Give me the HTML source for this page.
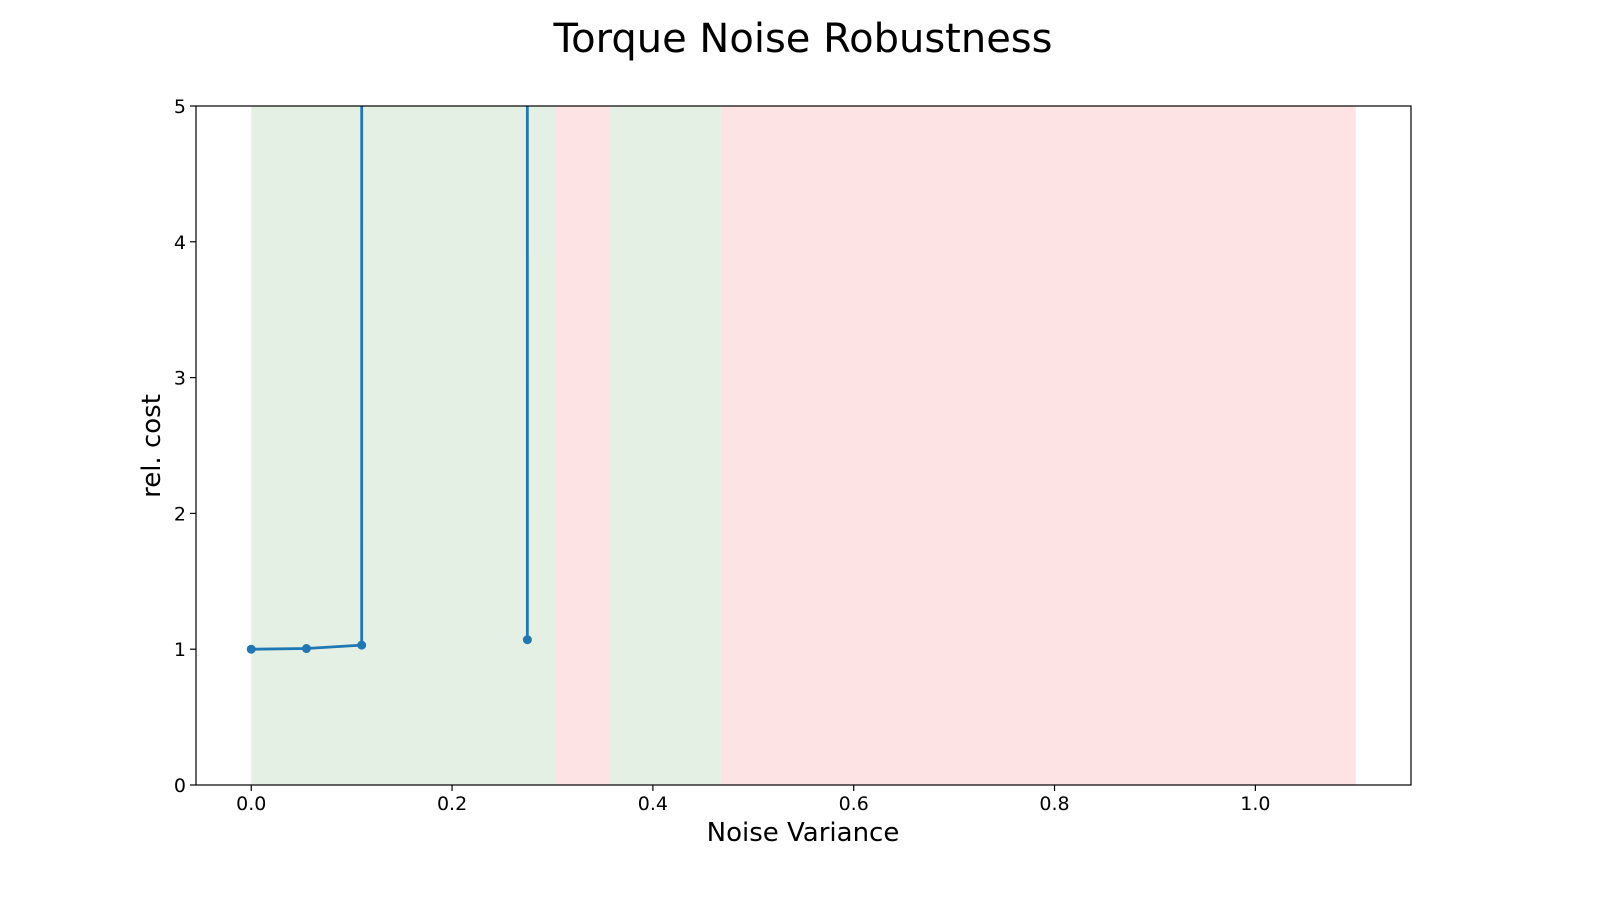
<!DOCTYPE html>
<html><head><meta charset="utf-8"><style>
html,body{margin:0;padding:0;background:#fff;}
svg text{font-family:"DejaVu Sans","Liberation Sans",sans-serif;fill:#000;}
</style></head><body>
<svg id="chart" width="1600" height="900" viewBox="0 0 1600 900" xmlns="http://www.w3.org/2000/svg">
<text x="803" y="52" font-size="40" text-anchor="middle">Torque Noise Robustness</text>
<defs><clipPath id="clip"><rect x="196" y="106" width="1215" height="679"/></clipPath></defs>
<g id="spans"></g>
<g id="series" clip-path="url(#clip)"></g>
<rect x="196" y="106" width="1215" height="679" fill="none" stroke="#000" stroke-width="1.2"/>
<g id="xticks"></g>
<g id="yticks"></g>
<text x="803" y="841" font-size="26" text-anchor="middle">Noise Variance</text>
<text transform="translate(160,446) rotate(-90)" font-size="26" text-anchor="middle">rel. cost</text>
</svg>
<script>
const xs = [0, 0.055, 0.11, 0.165, 0.22, 0.275];
const costs = [1.0, 1.005, 1.03, 10000, 10000, 1.07];
const spanStarts = [0, 0.3025, 0.3575, 0.4675];
const spanEnds = [0.3025, 0.3575, 0.4675, 1.1];
const spanKinds = ["ok", "fail", "ok", "fail"];
const xTickVals = [0, 0.2, 0.4, 0.6, 0.8, 1.0];
const xTickLabels = ["0.0", "0.2", "0.4", "0.6", "0.8", "1.0"];
const yTickVals = [0, 1, 2, 3, 4, 5];
const yTickLabels = ["0", "1", "2", "3", "4", "5"];

const NS = "http://www.w3.org/2000/svg";
const X0 = 196, X1 = 1411, Y0 = 785, Y1 = 106;
const xmin = -0.055, xmax = 1.155, ymin = 0, ymax = 5;
const sx = v => X0 + (v - xmin) / (xmax - xmin) * (X1 - X0);
const sy = v => Y0 - (v - ymin) / (ymax - ymin) * (Y0 - Y1);
function mk(tag, attrs, parent) {
  const e = document.createElementNS(NS, tag);
  for (const k in attrs) e.setAttribute(k, attrs[k]);
  parent.appendChild(e);
  return e;
}
const spansG = document.getElementById('spans');
spanStarts.forEach((s, i) => {
  const r = mk('rect', {x: sx(s), y: Y1, width: sx(spanEnds[i]) - sx(s), height: Y0 - Y1,
    fill: spanKinds[i] === 'ok' ? '#e5f0e5' : '#fee3e4'}, spansG);
  
  
});
const serG = document.getElementById('series');
const pts = xs.map((x, i) => sx(x) + ',' + sy(costs[i])).join(' ');
const line = mk('polyline', {points: pts, fill: 'none', stroke: '#1f77b4', 'stroke-width': 2.8, 'stroke-linejoin': 'round'}, serG);


xs.forEach((x, i) => {
  const c = mk('circle', {cx: sx(x), cy: sy(costs[i]), r: 4.5, fill: '#1f77b4'}, serG);
  
  
});
const xg = document.getElementById('xticks');
xTickVals.forEach((v, i) => {
  const t = mk('line', {x1: sx(v), x2: sx(v), y1: Y0, y2: Y0 + 6, stroke: '#000', 'stroke-width': 1.2}, xg);
  
  
  const l = mk('text', {x: sx(v), y: Y0 + 25, 'font-size': 19, 'text-anchor': 'middle'}, xg);
  l.textContent = xTickLabels[i];
  
  
});
const yg = document.getElementById('yticks');
yTickVals.forEach((v, i) => {
  const t = mk('line', {x1: X0 - 6, x2: X0, y1: sy(v), y2: sy(v), stroke: '#000', 'stroke-width': 1.2}, yg);
  
  
  const l = mk('text', {x: X0 - 10, y: sy(v) + 7, 'font-size': 19, 'text-anchor': 'end'}, yg);
  l.textContent = yTickLabels[i];
  
  
});
</script>
</body></html>
